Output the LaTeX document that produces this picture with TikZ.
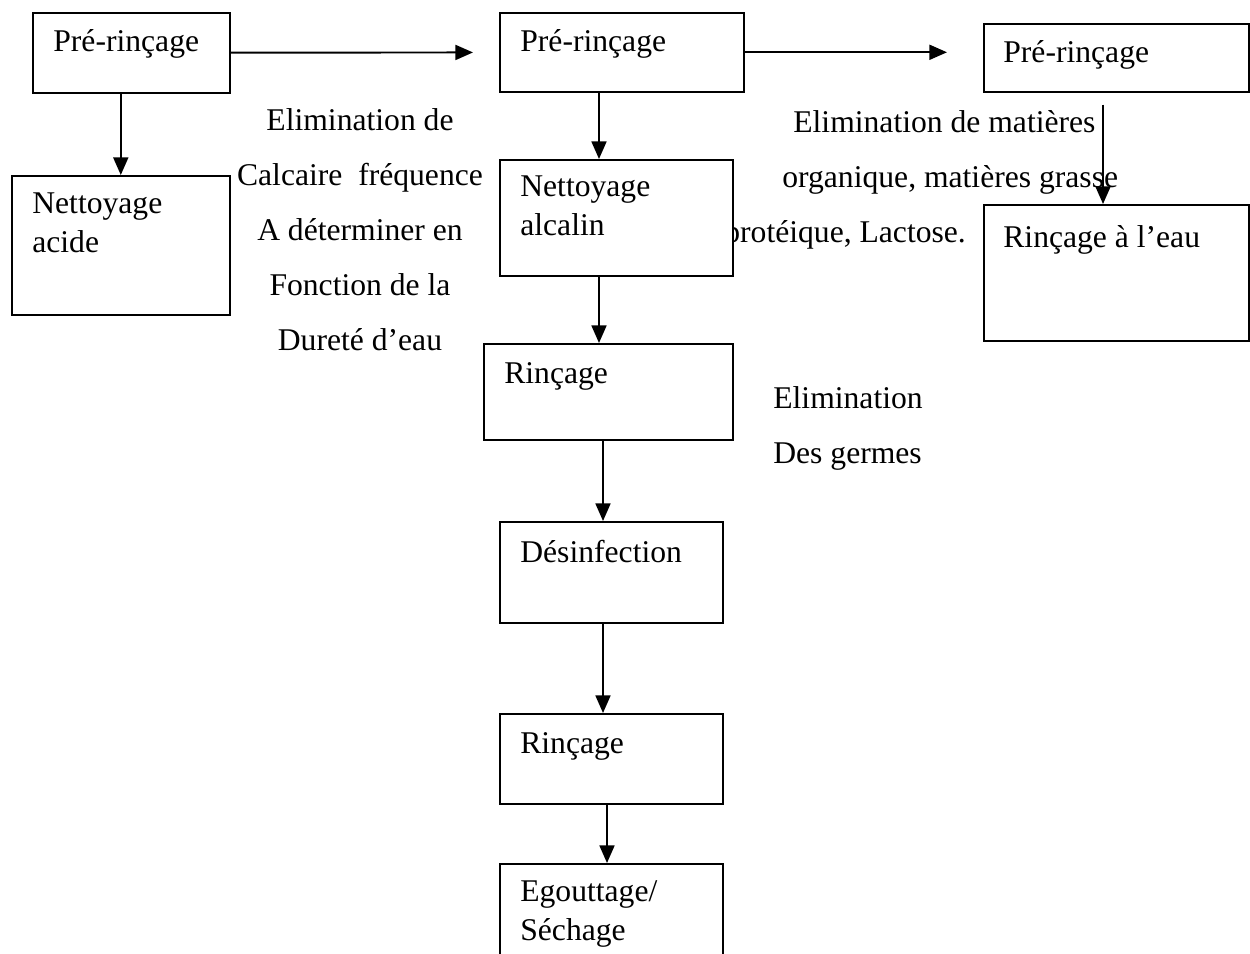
\documentclass[tikz,border=0pt]{standalone}
\usepackage{fontspec}
\setmainfont{Liberation Serif}
\usetikzlibrary{arrows.meta}
\newlength\pxu
\setlength\pxu{0.02cm}

\begin{document}
\begin{tikzpicture}[
  x=0.02cm, y=-0.02cm,
  box/.style={draw, line width=0.9pt, fill=white, anchor=north west, inner sep=0pt},
  lbl/.style={anchor=base west, align=left, inner sep=0pt, xshift=21*\pxu, yshift=-40*\pxu, font=\fontsize{18}{22}\selectfont},
  note/.style={align=left, inner sep=0pt, font=\fontsize{18}{31.2}\selectfont},
  arr/.style={-{Triangle[length=10pt, width=8.5pt]}, line width=1.1pt}
]
  \useasboundingbox (0,0) rectangle (1250,953);
  \clip (0,0) rectangle (1250,953);

  % remarks beside the steps (anchored on the last line)
  \node[note, align=center, anchor=base] (calc) at (360,350) {Elimination de\\Calcaire\ \ fréquence\\A déterminer en\\Fonction de la\\Dureté d’eau};
  \node[note, anchor=base west] (gras) at (724,242) {\hspace*{69\pxu}Elimination de matières\\\hspace*{58\pxu}organique, matières grasse\\protéique, Lactose.};
  \node[note, anchor=base west] (germ) at (773,463) {Elimination\\Des germes};

  % steps
  \node[box, minimum width=197*\pxu, minimum height=80*\pxu, label={[lbl]north west:Pré-rinçage}] (pr1) at (32,12) {};
  \node[box, minimum width=218*\pxu, minimum height=139*\pxu, label={[lbl, yshift=-37*\pxu]north west:Nettoyage\\acide}] (acide) at (11,175) {};
  \node[box, minimum width=244*\pxu, minimum height=79*\pxu, label={[lbl]north west:Pré-rinçage}] (pr2) at (499,12) {};
  \node[box, minimum width=233*\pxu, minimum height=116*\pxu, label={[lbl, yshift=-36*\pxu]north west:Nettoyage\\alcalin}] (alc) at (499,159) {};
  \node[box, minimum width=265*\pxu, minimum height=68*\pxu, label={[lbl, xshift=-1*\pxu]north west:Pré-rinçage}] (pr3) at (983,23) {};
  \node[box, minimum width=265*\pxu, minimum height=136*\pxu, label={[lbl, xshift=-1*\pxu, yshift=-3*\pxu]north west:Rinçage à l’eau}] (eau) at (983,204) {};
  \node[box, minimum width=249*\pxu, minimum height=96*\pxu, label={[lbl]north west:Rinçage}] (rinc1) at (483,343) {};
  \node[box, minimum width=223*\pxu, minimum height=101*\pxu, label={[lbl, yshift=-1*\pxu]north west:Désinfection}] (desinf) at (499,521) {};
  \node[box, minimum width=223*\pxu, minimum height=90*\pxu, label={[lbl]north west:Rinçage}] (rinc2) at (499,713) {};
  \node[box, minimum width=223*\pxu, minimum height=140*\pxu, label={[lbl, yshift=-37*\pxu]north west:Egouttage/\\Séchage}] (egout) at (499,863) {};

  % connectors
  \draw[arr] (pr1.south -| acide.north) -- (acide.north);
  \draw[arr, shorten >=26*\pxu] (pr1) -- (pr2);
  \draw[arr, shorten >=36*\pxu] (pr2.east) -- (pr2.east -| pr3.west);
  \draw[arr, shorten <=12*\pxu] (pr3.south -| 1103,0) -- (eau.north -| 1103,0);
  \draw[arr] (pr2.south -| 599,0) -- (alc.north -| 599,0);
  \draw[arr] (alc.south -| 599,0) -- (rinc1.north -| 599,0);
  \draw[arr] (rinc1.south -| 603,0) -- (desinf.north -| 603,0);
  \draw[arr] (desinf.south -| 603,0) -- (rinc2.north -| 603,0);
  \draw[arr] (rinc2.south -| 607,0) -- (egout.north -| 607,0);
\end{tikzpicture}
\end{document}
